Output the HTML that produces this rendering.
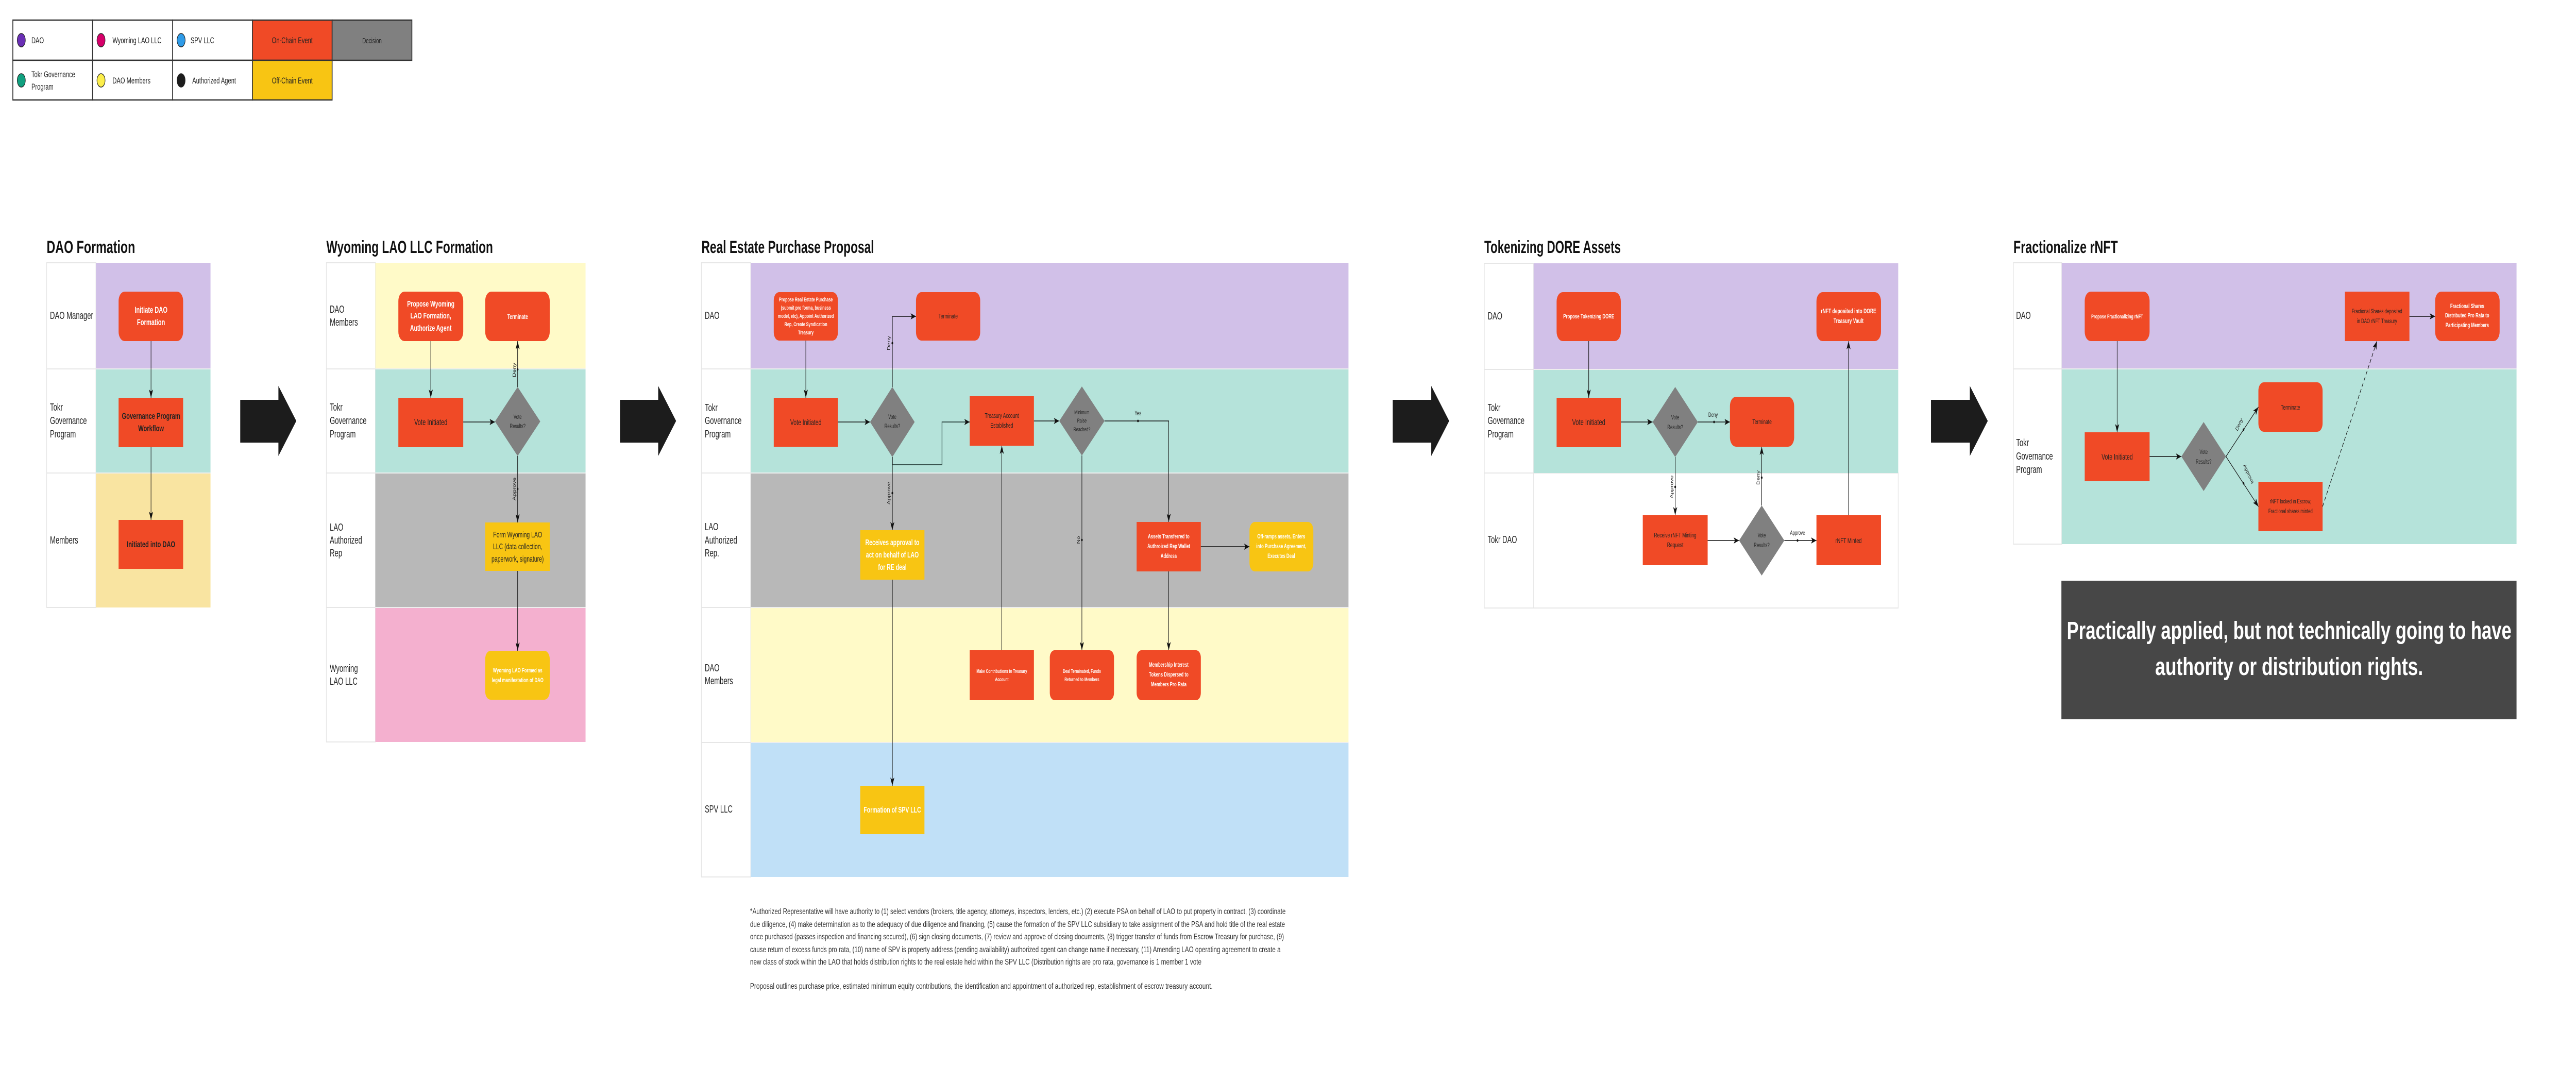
<!DOCTYPE html>
<html><head><meta charset="utf-8"><style>html,body{margin:0;padding:0;background:#fff;overflow:hidden}svg{display:block;width:100vw;height:100vh}</style></head>
<body>
<svg xmlns="http://www.w3.org/2000/svg" viewBox="0 0 7624 2098" preserveAspectRatio="none" font-family="Liberation Sans Narrow, Liberation Sans, sans-serif">
<defs>
<marker id="a" markerUnits="userSpaceOnUse" markerWidth="16" markerHeight="12" refX="16" refY="6" orient="auto"><path d="M0,0 L16,6 L0,12 L4,6 z" fill="#111"/></marker>
</defs>
<rect width="7624" height="2098" fill="#fff"/>

<!-- LEGEND -->
<g stroke="#333" stroke-width="2.5">
<rect x="38" y="39" width="236" height="78" fill="#fff"/>
<rect x="274" y="39" width="237" height="78" fill="#fff"/>
<rect x="511" y="39" width="236" height="78" fill="#fff"/>
<rect x="747" y="39" width="236" height="78" fill="#f04a26"/>
<rect x="983" y="39" width="236" height="78" fill="#808080"/>
<rect x="38" y="117" width="236" height="77" fill="#fff"/>
<rect x="274" y="117" width="237" height="77" fill="#fff"/>
<rect x="511" y="117" width="236" height="77" fill="#fff"/>
<rect x="747" y="117" width="236" height="77" fill="#f8c513"/>
</g>
<g stroke="#222" stroke-width="1.5">
<ellipse cx="63" cy="78" rx="12" ry="13" fill="#6a2fb5"/>
<ellipse cx="299" cy="78" rx="12" ry="13" fill="#d6006a"/>
<ellipse cx="536" cy="78" rx="12" ry="13" fill="#2e9be8"/>
<ellipse cx="63" cy="156" rx="12" ry="13" fill="#11a07f"/>
<ellipse cx="299" cy="156" rx="12" ry="13" fill="#fcee4b"/>
<ellipse cx="536" cy="156" rx="12" ry="13" fill="#1c1c1c"/>
</g>
<g font-size="17" fill="#222">
<text x="93" y="84">DAO</text>
<text x="333" y="84">Wyoming LAO LLC</text>
<text x="564" y="84">SPV LLC</text>
<text x="865" y="84" text-anchor="middle">On-Chain Event</text>
<text x="1101" y="84" text-anchor="middle" font-size="15">Decision</text>
<text x="93" y="150">Tokr Governance</text>
<text x="93" y="174">Program</text>
<text x="333" y="162">DAO Members</text>
<text x="569" y="162">Authorized Agent</text>
<text x="865" y="162" text-anchor="middle">Off-Chain Event</text>
</g>

<!-- BIG ARROWS -->
<g fill="#1c1c1c">
<polygon points="711,776 824,776 824,749 877,817 824,885 824,859 711,859"/>
<polygon points="1835,776 1948,776 1948,749 2001,817 1948,885 1948,859 1835,859"/>
<polygon points="4122,776 4236,776 4236,749 4289,817 4236,885 4236,859 4122,859"/>
<polygon points="5715,776 5830,776 5830,749 5883,817 5830,885 5830,859 5715,859"/>
</g>

<!-- TITLES -->
<g font-size="34" font-weight="bold" fill="#111">
<text x="138" y="491" textLength="262" lengthAdjust="spacingAndGlyphs">DAO Formation</text>
<text x="966" y="491" textLength="493" lengthAdjust="spacingAndGlyphs">Wyoming LAO LLC Formation</text>
<text x="2076" y="491" textLength="511" lengthAdjust="spacingAndGlyphs">Real Estate Purchase Proposal</text>
<text x="4393" y="491" textLength="404" lengthAdjust="spacingAndGlyphs">Tokenizing DORE Assets</text>
<text x="5959" y="491" textLength="309" lengthAdjust="spacingAndGlyphs">Fractionalize rNFT</text>
</g>

<!-- ========== DAO FORMATION ========== -->
<g stroke="#e6e6e6" stroke-width="2">
<rect x="138" y="510" width="146" height="206" fill="#fff"/>
<rect x="138" y="716" width="146" height="202" fill="#fff"/>
<rect x="138" y="918" width="146" height="261" fill="#fff"/>
</g>
<rect x="284" y="510" width="339" height="206" fill="#d1c0e8"/>
<rect x="284" y="716" width="339" height="202" fill="#b5e3da"/>
<rect x="284" y="918" width="339" height="261" fill="#f9e4a1"/>
<line x1="284" y1="716" x2="623" y2="716" stroke="#eee" stroke-width="2"/>
<line x1="284" y1="918" x2="623" y2="918" stroke="#eee" stroke-width="2"/>
<g font-size="20" fill="#222">
<text x="148" y="619">DAO Manager</text>
<text x="148" y="797">Tokr</text><text x="148" y="823">Governance</text><text x="148" y="849">Program</text>
<text x="148" y="1055">Members</text>
</g>
<rect x="351" y="566" width="191" height="96" rx="18" fill="#f04a26"/>
<rect x="351" y="772" width="191" height="96" fill="#f04a26"/>
<rect x="351" y="1009" width="191" height="95" fill="#f04a26"/>
<g font-size="17" font-weight="bold" text-anchor="middle">
<text x="447" y="607" fill="#fff">Initiate DAO</text><text x="447" y="631" fill="#fff">Formation</text>
<text x="447" y="813" fill="#222">Governance Program</text><text x="447" y="837" fill="#222">Workflow</text>
<text x="447" y="1062" fill="#222">Initiated into DAO</text>
</g>
<g stroke="#111" stroke-width="1.5" fill="none" marker-end="url(#a)">
<line x1="447" y1="662" x2="447" y2="772"/>
<line x1="447" y1="868" x2="447" y2="1009"/>
</g>

<!-- ========== WYOMING ========== -->
<g stroke="#e6e6e6" stroke-width="2">
<rect x="966" y="510" width="145" height="206" fill="#fff"/>
<rect x="966" y="716" width="145" height="202" fill="#fff"/>
<rect x="966" y="918" width="145" height="261" fill="#fff"/>
<rect x="966" y="1179" width="145" height="261" fill="#fff"/>
</g>
<rect x="1111" y="510" width="622" height="206" fill="#fffac8"/>
<rect x="1111" y="716" width="622" height="202" fill="#b5e3da"/>
<rect x="1111" y="918" width="622" height="261" fill="#b8b8b8"/>
<rect x="1111" y="1179" width="622" height="261" fill="#f4b0cf"/>
<g stroke="#eee" stroke-width="2"><line x1="1111" y1="716" x2="1733" y2="716"/><line x1="1111" y1="918" x2="1733" y2="918"/><line x1="1111" y1="1179" x2="1733" y2="1179"/></g>
<g font-size="20" fill="#222">
<text x="976" y="607">DAO</text><text x="976" y="632">Members</text>
<text x="976" y="797">Tokr</text><text x="976" y="823">Governance</text><text x="976" y="849">Program</text>
<text x="976" y="1030">LAO</text><text x="976" y="1055">Authorized</text><text x="976" y="1080">Rep</text>
<text x="976" y="1304">Wyoming</text><text x="976" y="1329">LAO LLC</text>
</g>
<rect x="1179" y="566" width="192" height="96" rx="18" fill="#f04a26"/>
<rect x="1436" y="566" width="191" height="96" rx="18" fill="#f04a26"/>
<rect x="1179" y="772" width="192" height="96" fill="#f04a26"/>
<polygon points="1532,751 1599,818 1532,885 1465,818" fill="#808080"/>
<rect x="1436" y="1014" width="191" height="94" fill="#f8c513"/>
<rect x="1436" y="1263" width="191" height="95" rx="16" fill="#f8c513"/>
<g text-anchor="middle">
<g font-size="16" font-weight="bold" fill="#fff"><text x="1275" y="595">Propose Wyoming</text><text x="1275" y="618">LAO Formation,</text><text x="1275" y="642">Authorize Agent</text></g>
<text x="1532" y="619" font-size="13" font-weight="bold" fill="#fff">Terminate</text>
<text x="1275" y="825" font-size="17" fill="#222">Vote Initiated</text>
<text x="1532" y="813" font-size="12" fill="#222">Vote</text><text x="1532" y="831" font-size="12" fill="#222">Results?</text>
<g font-size="16" fill="#222"><text x="1532" y="1043">Form Wyoming LAO</text><text x="1532" y="1066">LLC (data collection,</text><text x="1532" y="1090">paperwork, signature)</text></g>
<g font-size="12" font-weight="bold" fill="#fff"><text x="1532" y="1305">Wyoming LAO Formed as</text><text x="1532" y="1324">legal manifestation of DAO</text></g>
</g>
<g stroke="#111" stroke-width="1.5" fill="none" marker-end="url(#a)">
<line x1="1275" y1="662" x2="1275" y2="772"/>
<line x1="1371" y1="819" x2="1465" y2="819"/>
<line x1="1532" y1="751" x2="1532" y2="662"/>
<line x1="1532" y1="885" x2="1532" y2="1014"/>
<line x1="1532" y1="1108" x2="1532" y2="1263"/>
</g>
<circle cx="1532" cy="717" r="2.5" fill="#111"/><circle cx="1532" cy="949" r="2.5" fill="#111"/>
<g font-size="12" fill="#222" text-anchor="middle">
<text transform="translate(1526,718) rotate(-90)">Deny</text>
<text transform="translate(1526,949) rotate(-90)">Approve</text>
</g>

<!-- ========== REAL ESTATE ========== -->
<g stroke="#e6e6e6" stroke-width="2">
<rect x="2076" y="510" width="146" height="206" fill="#fff"/>
<rect x="2076" y="716" width="146" height="202" fill="#fff"/>
<rect x="2076" y="918" width="146" height="261" fill="#fff"/>
<rect x="2076" y="1179" width="146" height="262" fill="#fff"/>
<rect x="2076" y="1441" width="146" height="261" fill="#fff"/>
</g>
<rect x="2222" y="510" width="1769" height="206" fill="#d1c0e8"/>
<rect x="2222" y="716" width="1769" height="202" fill="#b5e3da"/>
<rect x="2222" y="918" width="1769" height="261" fill="#b8b8b8"/>
<rect x="2222" y="1179" width="1769" height="262" fill="#fffac8"/>
<rect x="2222" y="1441" width="1769" height="261" fill="#c0e0f7"/>
<g stroke="#eee" stroke-width="2"><line x1="2222" y1="716" x2="3991" y2="716"/><line x1="2222" y1="918" x2="3991" y2="918"/><line x1="2222" y1="1179" x2="3991" y2="1179"/><line x1="2222" y1="1441" x2="3991" y2="1441"/></g>
<g font-size="20" fill="#222">
<text x="2086" y="619">DAO</text>
<text x="2086" y="798">Tokr</text><text x="2086" y="823">Governance</text><text x="2086" y="849">Program</text>
<text x="2086" y="1029">LAO</text><text x="2086" y="1055">Authorized</text><text x="2086" y="1080">Rep.</text>
<text x="2086" y="1303">DAO</text><text x="2086" y="1328">Members</text>
<text x="2086" y="1577">SPV LLC</text>
</g>
<rect x="2290" y="567" width="190" height="94" rx="16" fill="#f04a26"/>
<rect x="2711" y="567" width="190" height="94" rx="16" fill="#f04a26"/>
<rect x="2290" y="772" width="190" height="95" fill="#f04a26"/>
<polygon points="2641,751 2707,819 2641,887 2575,819" fill="#808080"/>
<rect x="2870" y="769" width="190" height="96" fill="#f04a26"/>
<polygon points="3202,750 3269,817 3202,884 3135,817" fill="#808080"/>
<rect x="2546" y="1029" width="190" height="96" fill="#f8c513"/>
<rect x="3364" y="1013" width="190" height="96" fill="#f04a26"/>
<rect x="3698" y="1013" width="189" height="96" rx="16" fill="#f8c513"/>
<rect x="2870" y="1262" width="190" height="97" fill="#f04a26"/>
<rect x="3107" y="1262" width="190" height="97" rx="14" fill="#f04a26"/>
<rect x="3364" y="1262" width="190" height="97" rx="14" fill="#f04a26"/>
<rect x="2546" y="1525" width="190" height="94" fill="#f8c513"/>
<g text-anchor="middle">
<g font-size="11" font-weight="bold" fill="#fff"><text x="2385" y="585">Propose Real Estate Purchase</text><text x="2385" y="601">(submit pro forma, business</text><text x="2385" y="617">model, etc), Appoint Authorized</text><text x="2385" y="633">Rep, Create Syndication</text><text x="2385" y="649">Treasury</text></g>
<text x="2806" y="618" font-size="13" fill="#222">Terminate</text>
<text x="2385" y="825" font-size="16" fill="#222">Vote Initiated</text>
<text x="2641" y="813" font-size="12" fill="#222">Vote</text><text x="2641" y="831" font-size="12" fill="#222">Results?</text>
<text x="2965" y="811" font-size="13" fill="#222">Treasury Account</text><text x="2965" y="830" font-size="13" fill="#222">Established</text>
<g font-size="11" fill="#222"><text x="3202" y="804">Minimum</text><text x="3202" y="820">Raise</text><text x="3202" y="837">Reached?</text></g>
<g font-size="16" font-weight="bold" fill="#fff"><text x="2641" y="1058">Receives approval to</text><text x="2641" y="1082">act on behalf of LAO</text><text x="2641" y="1106">for RE deal</text></g>
<g font-size="12" font-weight="bold" fill="#fff"><text x="3459" y="1045">Assets Transferred to</text><text x="3459" y="1064">Authroized Rep Wallet</text><text x="3459" y="1083">Address</text></g>
<g font-size="12" font-weight="bold" fill="#fff"><text x="3792" y="1045">Off-ramps assets, Enters</text><text x="3792" y="1064">into Purchase Agreement,</text><text x="3792" y="1083">Executes Deal</text></g>
<g font-size="10" font-weight="bold" fill="#fff"><text x="2965" y="1306">Make Contributions to Treasury</text><text x="2965" y="1322">Account</text></g>
<g font-size="10" font-weight="bold" fill="#fff"><text x="3202" y="1306">Deal Terminated, Funds</text><text x="3202" y="1322">Returned to Members</text></g>
<g font-size="12" font-weight="bold" fill="#fff"><text x="3459" y="1294">Membership Interest</text><text x="3459" y="1313">Tokens Dispersed to</text><text x="3459" y="1332">Members Pro Rata</text></g>
<text x="2641" y="1577" font-size="16" font-weight="bold" fill="#fff">Formation of SPV LLC</text>
</g>
<g stroke="#111" stroke-width="1.5" fill="none" marker-end="url(#a)">
<line x1="2385" y1="661" x2="2385" y2="772"/>
<line x1="2480" y1="819" x2="2575" y2="819"/>
<polyline points="2641,751 2641,614 2711,614"/>
<polyline points="2641,887 2641,902 2788,902 2788,819 2870,819" stroke="#3a5550" stroke-width="2"/>
<line x1="2641" y1="887" x2="2641" y2="1029"/>
<line x1="2641" y1="1125" x2="2641" y2="1525"/>
<line x1="3060" y1="817" x2="3135" y2="817"/>
<polyline points="3269,817 3459,817 3459,1013"/>
<line x1="3202" y1="884" x2="3202" y2="1262"/>
<line x1="2965" y1="1262" x2="2965" y2="865"/>
<line x1="3459" y1="1109" x2="3459" y2="1262"/>
<line x1="3554" y1="1061" x2="3698" y2="1061"/>
</g>
<g fill="#111"><circle cx="2641" cy="666" r="2.5"/><circle cx="2641" cy="957" r="2.5"/><circle cx="3368" cy="817" r="2.5"/><circle cx="3202" cy="1048" r="2.5"/></g>
<g font-size="12" fill="#222" text-anchor="middle">
<text transform="translate(2635,666) rotate(-90)">Deny</text>
<text transform="translate(2635,957) rotate(-90)">Approve</text>
<text x="3368" y="806">Yes</text>
<text transform="translate(3196,1048) rotate(-90)">No</text>
</g>
<!-- footnote -->
<g font-size="16" fill="#333">
<text x="2220" y="1774" textLength="1585" lengthAdjust="spacingAndGlyphs">*Authorized Representative will have authority to (1) select vendors (brokers, title agency, attorneys, inspectors, lenders, etc.) (2) execute PSA on behalf of LAO to put property in contract, (3) coordinate</text>
<text x="2220" y="1799" textLength="1583" lengthAdjust="spacingAndGlyphs">due diligence, (4) make determination as to the adequacy of due diligence and financing, (5) cause the formation of the SPV LLC subsidiary to take assignment of the PSA and hold title of the real estate</text>
<text x="2220" y="1823" textLength="1580" lengthAdjust="spacingAndGlyphs">once purchased (passes inspection and financing secured), (6) sign closing documents, (7) review and approve of closing documents, (8) trigger transfer of funds from Escrow Treasury for purchase, (9)</text>
<text x="2220" y="1848" textLength="1570" lengthAdjust="spacingAndGlyphs">cause return of excess funds pro rata, (10) name of SPV is property address (pending availability) authorized agent can change name if necessary, (11) Amending LAO operating agreement to create a</text>
<text x="2220" y="1872" textLength="1336" lengthAdjust="spacingAndGlyphs">new class of stock within the LAO that holds distribution rights to the real estate held within the SPV LLC (Distribution rights are pro rata, governance is 1 member 1 vote</text>
<text x="2220" y="1919" textLength="1369" lengthAdjust="spacingAndGlyphs">Proposal outlines purchase price, estimated minimum equity contributions, the identification and appointment of authorized rep, establishment of escrow treasury account.</text>
</g>

<!-- ========== TOKENIZING ========== -->
<g stroke="#e6e6e6" stroke-width="2">
<rect x="4393" y="511" width="146" height="206" fill="#fff"/>
<rect x="4393" y="717" width="146" height="201" fill="#fff"/>
<rect x="4393" y="918" width="1225" height="262" fill="#fff"/>
<line x1="4539" y1="918" x2="4539" y2="1180"/>
</g>
<rect x="4539" y="511" width="1079" height="206" fill="#d1c0e8"/>
<rect x="4539" y="717" width="1079" height="201" fill="#b5e3da"/>
<line x1="4539" y1="717" x2="5618" y2="717" stroke="#eee" stroke-width="2"/>
<g font-size="20" fill="#222">
<text x="4403" y="620">DAO</text>
<text x="4403" y="798">Tokr</text><text x="4403" y="823">Governance</text><text x="4403" y="849">Program</text>
<text x="4403" y="1054">Tokr DAO</text>
</g>
<rect x="4607" y="567" width="190" height="95" rx="18" fill="#f04a26"/>
<rect x="5376" y="567" width="191" height="95" rx="18" fill="#f04a26"/>
<rect x="4607" y="772" width="190" height="96" fill="#f04a26"/>
<polygon points="4958,751 5025,819 4958,887 4891,819" fill="#808080"/>
<rect x="5120" y="770" width="190" height="97" rx="18" fill="#f04a26"/>
<rect x="4862" y="1000" width="192" height="97" fill="#f04a26"/>
<polygon points="5214,981 5281,1049 5214,1117 5147,1049" fill="#808080"/>
<rect x="5376" y="1000" width="191" height="97" fill="#f04a26"/>
<g text-anchor="middle">
<text x="4702" y="618" font-size="12" font-weight="bold" fill="#fff">Propose Tokenizing DORE</text>
<text x="5471" y="608" font-size="13" font-weight="bold" fill="#fff">rNFT deposited into DORE</text><text x="5471" y="627" font-size="13" font-weight="bold" fill="#fff">Treasury Vault</text>
<text x="4702" y="825" font-size="17" fill="#222">Vote Initiated</text>
<text x="4958" y="814" font-size="12" fill="#222">Vote</text><text x="4958" y="833" font-size="12" fill="#222">Results?</text>
<text x="5215" y="823" font-size="13" fill="#222">Terminate</text>
<text x="4958" y="1043" font-size="13" fill="#222">Receive rNFT Minting</text><text x="4958" y="1062" font-size="13" fill="#222">Request</text>
<text x="5214" y="1043" font-size="12" fill="#222">Vote</text><text x="5214" y="1062" font-size="12" fill="#222">Results?</text>
<text x="5471" y="1054" font-size="14" fill="#222">rNFT Minted</text>
</g>
<g stroke="#111" stroke-width="1.5" fill="none" marker-end="url(#a)">
<line x1="4702" y1="662" x2="4702" y2="772"/>
<line x1="4797" y1="819" x2="4891" y2="819"/>
<line x1="5025" y1="819" x2="5120" y2="819"/>
<line x1="4958" y1="887" x2="4958" y2="1000"/>
<line x1="5054" y1="1049" x2="5147" y2="1049"/>
<line x1="5214" y1="981" x2="5214" y2="867"/>
<line x1="5281" y1="1049" x2="5376" y2="1049"/>
<line x1="5471" y1="1000" x2="5471" y2="662"/>
</g>
<g fill="#111"><circle cx="5073" cy="819" r="2.5"/><circle cx="4958" cy="945" r="2.5"/><circle cx="5214" cy="927" r="2.5"/><circle cx="5320" cy="1049" r="2.5"/></g>
<g font-size="12" fill="#222" text-anchor="middle">
<text x="5070" y="809">Deny</text>
<text transform="translate(4952,945) rotate(-90)">Approve</text>
<text transform="translate(5208,927) rotate(-90)">Deny</text>
<text x="5320" y="1038">Approve</text>
</g>

<!-- ========== FRACTIONALIZE ========== -->
<g stroke="#e6e6e6" stroke-width="2">
<rect x="5959" y="510" width="143" height="206" fill="#fff"/>
<rect x="5959" y="716" width="143" height="340" fill="#fff"/>
</g>
<rect x="6102" y="510" width="1346" height="206" fill="#d1c0e8"/>
<rect x="6102" y="716" width="1346" height="340" fill="#b5e3da"/>
<line x1="6102" y1="716" x2="7448" y2="716" stroke="#eee" stroke-width="2"/>
<g font-size="20" fill="#222">
<text x="5967" y="619">DAO</text>
<text x="5967" y="866">Tokr</text><text x="5967" y="892">Governance</text><text x="5967" y="918">Program</text>
</g>
<rect x="6170" y="566" width="192" height="96" rx="18" fill="#f04a26"/>
<rect x="6940" y="566" width="191" height="96" fill="#f04a26"/>
<rect x="7207" y="566" width="191" height="96" rx="18" fill="#f04a26"/>
<rect x="6170" y="839" width="192" height="95" fill="#f04a26"/>
<polygon points="6522,819 6588,886 6522,953 6456,886" fill="#808080"/>
<rect x="6684" y="742" width="190" height="96" rx="16" fill="#f04a26"/>
<rect x="6684" y="935" width="190" height="96" fill="#f04a26"/>
<g text-anchor="middle">
<text x="6266" y="618" font-size="11" font-weight="bold" fill="#fff">Propose Fractionalizing rNFT</text>
<text x="7035" y="608" font-size="12" fill="#222">Fractional Shares deposited</text><text x="7035" y="627" font-size="12" fill="#222">in DAO rNFT Treasury</text>
<g font-size="12" font-weight="bold" fill="#fff"><text x="7302" y="598">Fractional Shares</text><text x="7302" y="616">Distributed Pro Rata to</text><text x="7302" y="635">Participating Members</text></g>
<text x="6266" y="892" font-size="16" fill="#222">Vote Initiated</text>
<text x="6522" y="881" font-size="12" fill="#222">Vote</text><text x="6522" y="900" font-size="12" fill="#222">Results?</text>
<text x="6779" y="795" font-size="13" fill="#222">Terminate</text>
<text x="6779" y="977" font-size="12" fill="#222">rNFT locked in Escrow,</text><text x="6779" y="996" font-size="12" fill="#222">Fractional shares minted</text>
</g>
<g stroke="#111" stroke-width="1.5" fill="none" marker-end="url(#a)">
<line x1="6266" y1="662" x2="6266" y2="839"/>
<line x1="6362" y1="886" x2="6456" y2="886"/>
<line x1="6588" y1="886" x2="6684" y2="790"/>
<line x1="6588" y1="886" x2="6684" y2="983"/>
<line x1="6874" y1="983" x2="7035" y2="662" stroke-dasharray="8,5"/>
<line x1="7131" y1="614" x2="7207" y2="614"/>
</g>
<g fill="#111"><circle cx="6640" cy="834" r="2.5"/><circle cx="6640" cy="938" r="2.5"/></g>
<g font-size="12" fill="#222" text-anchor="middle">
<text transform="translate(6630,826) rotate(-55)">Deny</text>
<text transform="translate(6652,922) rotate(55)">Approve</text>
</g>
<rect x="6101" y="1127" width="1347" height="269" fill="#474747"/>
<g font-size="48" font-weight="bold" fill="#fff" text-anchor="middle">
<text x="6775" y="1240" textLength="1316" lengthAdjust="spacingAndGlyphs">Practically applied, but not technically going to have</text>
<text x="6775" y="1310" textLength="793" lengthAdjust="spacingAndGlyphs">authority or distribution rights.</text>
</g>
</svg>
</body></html>
